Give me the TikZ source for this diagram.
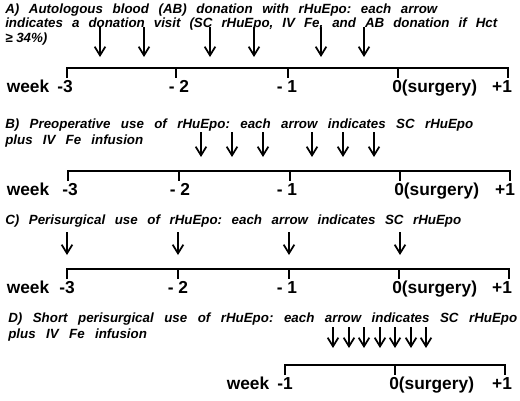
\documentclass[tikz,border=0pt]{standalone}
\usepackage{fontspec}
\setmainfont{Liberation Sans}
\usepackage{tikz}
\usetikzlibrary{arrows.meta}
\frenchspacing
\tikzset{
  panelhead/.style={anchor=base west, inner sep=0pt, font=\fontsize{10}{12}\selectfont\bfseries\itshape},
  weeklabel/.style={anchor=base, inner sep=0pt, font=\fontsize{13}{15}\selectfont\bfseries},
  timeaxis/.style={line width=1.3pt},
  dose/.style={-{Straight Barb[length=6.5pt,width=8pt]}, line width=1.3pt}
}

\begin{document}
\begin{tikzpicture}[x=0.75pt, y=-0.75pt]
  \useasboundingbox (0,0) rectangle (520,400);
  % A) autologous blood donation
  \node[panelhead] (headAa) at (5,13) {\makebox[324pt][s]{A) Autologous blood (AB) donation with rHuEpo: each arrow}};
  \node[panelhead] (headAb) at (5,27.5) {\makebox[369pt][s]{indicates a donation visit (SC rHuEpo, IV Fe, and AB donation if Hct}};
  \node[panelhead] (headAc) at (5,42) {≥ 34\%)};
  \draw[timeaxis] (67,78) -- (67,68) -- (508,68) -- (508,78);
  \foreach \x in {176,288,398} \draw[timeaxis] (\x,68) -- (\x,78);
  \foreach \x in {100,144,210,254,321,364} \draw[dose] (\x,27) -- (\x,57);
  \node[weeklabel] (weekA) at (28,92) {week};
  \node[weeklabel] (wkAthree) at (65,92) {-3};
  \node[weeklabel] (wkAtwo) at (179,92) {- 2};
  \node[weeklabel] (wkAone) at (287,92) {- 1};
  \node[weeklabel, anchor=base west] (wkAzero) at (392,92) {0(surgery)};
  \node[weeklabel] (wkAplus) at (502,92) {+1};
  % B) preoperative
  \node[panelhead] (headBa) at (5,128) {\makebox[351pt][s]{B) Preoperative use of rHuEpo: each arrow indicates SC rHuEpo}};
  \node[panelhead] (headBb) at (5,144) {\makebox[103.5pt][s]{plus IV Fe infusion}};
  \draw[timeaxis] (68,181) -- (68,171) -- (510,171) -- (510,181);
  \foreach \x in {179,290,400} \draw[timeaxis] (\x,171) -- (\x,181);
  \foreach \x in {201,232,263,312,343,374} \draw[dose] (\x,132) -- (\x,157);
  \node[weeklabel] (weekB) at (28,195) {week};
  \node[weeklabel] (wkBthree) at (70,195) {-3};
  \node[weeklabel] (wkBtwo) at (180,195) {- 2};
  \node[weeklabel] (wkBone) at (287,195) {- 1};
  \node[weeklabel, anchor=base west] (wkBzero) at (394,195) {0(surgery)};
  \node[weeklabel] (wkBplus) at (505,195) {+1};
  % C) perisurgical
  \node[panelhead] (headCa) at (5,224) {\makebox[342pt][s]{C) Perisurgical use of rHuEpo: each arrow indicates SC rHuEpo}};
  \draw[timeaxis] (67,279) -- (67,269) -- (509,269) -- (509,279);
  \foreach \x in {178,289,399} \draw[timeaxis] (\x,269) -- (\x,279);
  \foreach \x in {67,178,289,400} \draw[dose] (\x,232) -- (\x,255);
  \node[weeklabel] (weekC) at (28,293) {week};
  \node[weeklabel] (wkCthree) at (67,293) {-3};
  \node[weeklabel] (wkCtwo) at (178,293) {- 2};
  \node[weeklabel] (wkCone) at (287,293) {- 1};
  \node[weeklabel, anchor=base west] (wkCzero) at (392,293) {0(surgery)};
  \node[weeklabel] (wkCplus) at (502,293) {+1};
  % D) short perisurgical
  \node[panelhead] (headDa) at (8,322) {\makebox[381.75pt][s]{D) Short perisurgical use of rHuEpo: each arrow indicates SC rHuEpo}};
  \node[panelhead] (headDb) at (8,338) {\makebox[104pt][s]{plus IV Fe infusion}};
  \draw[timeaxis] (285,375) -- (285,365) -- (505,365) -- (505,375);
  \draw[timeaxis] (395,365) -- (395,375);
  \foreach \x in {333,349,364,380,395,411,426} \draw[dose] (\x,327) -- (\x,348);
  \node[weeklabel] (weekD) at (248,389) {week};
  \node[weeklabel] (wkDone) at (285,389) {-1};
  \node[weeklabel, anchor=base west] (wkDzero) at (389,389) {0(surgery)};
  \node[weeklabel] (wkDplus) at (502,389) {+1};
\end{tikzpicture}
\end{document}
